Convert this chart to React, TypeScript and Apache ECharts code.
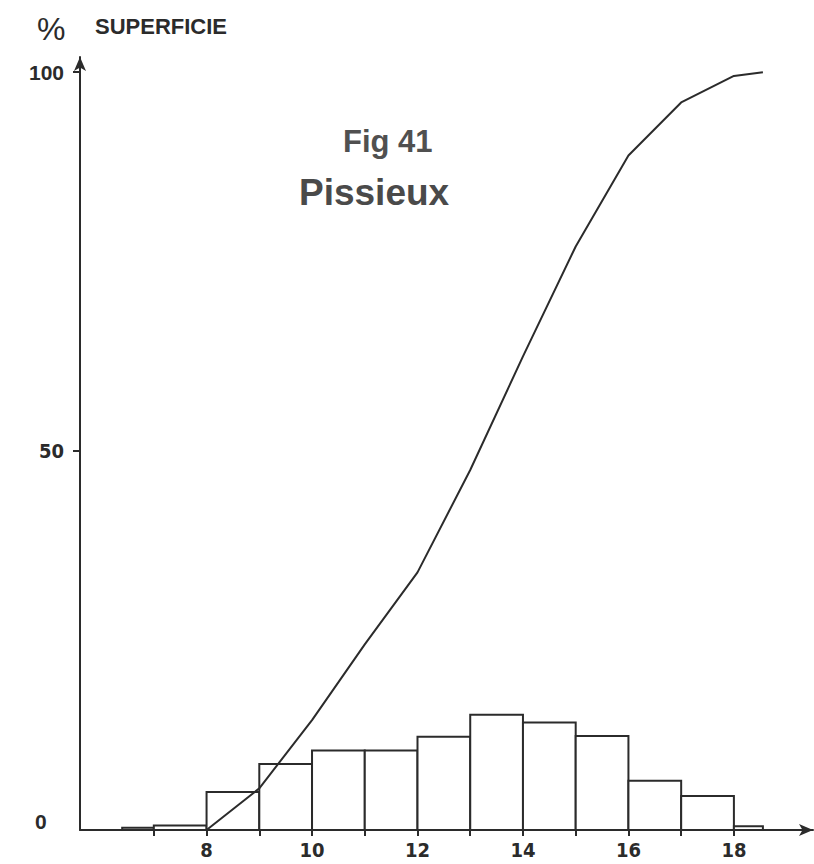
import React, { useEffect, useRef } from "react";
import * as echarts from "echarts";

// Histogram bins (class limits) and their share of the surface (%)
const binStarts = [6.4, 7, 8, 9, 10, 11, 12, 13, 14, 15, 16, 17, 18];
const binEnds = [7, 8, 9, 10, 11, 12, 13, 14, 15, 16, 17, 18, 18.55];
const binValues = [0.3, 0.6, 5.0, 8.7, 10.5, 10.5, 12.3, 15.2, 14.2, 12.4, 6.5, 4.5, 0.5];

// Cumulative curve
const cumX = [8, 9, 10, 11, 12, 13, 14, 15, 16, 17, 18, 18.55];
const cumY = [0, 5.5, 14.5, 24.5, 34, 47.5, 62.5, 77, 89, 96, 99.5, 100];

// Axis ticks / labels
const xTicks = [7, 8, 9, 10, 11, 12, 13, 14, 15, 16, 17, 18];
const xLabels = [8, 10, 12, 14, 16, 18];
const yTicks = [50, 100];
const yLabels = [50, 100];

const FONT = '"Liberation Sans", Arial, Helvetica, sans-serif';
const NARROW = '"Liberation Sans Narrow", "DejaVu Sans Condensed", "Liberation Sans", Arial, sans-serif';
const INK = "#2b2b2b";

export default function App() {
  const ref = useRef<HTMLDivElement>(null);

  useEffect(() => {
    document.body.style.margin = "0";
    const chart = echarts.init(ref.current!, null, { renderer: "svg" });
    const histData = binStarts.map((s, i) => [s, binEnds[i], binValues[i]]);
    const lineData = cumX.map((x, i) => [x, cumY[i]]);

    chart.setOption({
      animation: false,
      backgroundColor: "#ffffff",
      textStyle: { fontFamily: FONT },
      grid: {
        left: 80,
        right: 1,
        top: 57,
        bottom: 34,
        containLabel: false,
        outerBoundsMode: "none",
      },
      xAxis: {
        type: "value",
        min: 5.6,
        max: 19.5,
        splitLine: { show: false },
        axisLine: {
          show: true,
          lineStyle: { color: INK, width: 2 },
          symbol: ["none", "arrow"],
          symbolSize: [9, 14],
        },
        axisTick: {
          show: true,
          customValues: xTicks,
          length: 6,
          inside: false,
          lineStyle: { color: INK, width: 2 },
        },
        axisLabel: {
          customValues: xLabels,
          margin: 10,
          color: INK,
          fontSize: 20,
          fontWeight: "bold",
          fontFamily: NARROW,
        },
      },
      yAxis: {
        type: "value",
        min: 0,
        max: 102,
        splitLine: { show: false },
        axisLine: {
          show: true,
          lineStyle: { color: INK, width: 2 },
          symbol: ["none", "arrow"],
          symbolSize: [9, 14],
        },
        axisTick: {
          show: true,
          customValues: yTicks,
          length: 7,
          lineStyle: { color: INK, width: 2 },
        },
        axisLabel: {
          customValues: yLabels,
          margin: 16,
          color: INK,
          fontWeight: "bold",
          formatter: (v: number) => (v === 100 ? "{w|" + v + "}" : "{n|" + v + "}"),
          rich: {
            w: { fontSize: 21, fontWeight: "bold", fontFamily: FONT, color: INK },
            n: { fontSize: 20, fontWeight: "bold", fontFamily: NARROW, color: INK },
          },
        },
      },
      graphic: [
        {
          type: "text",
          left: 37,
          top: 13,
          style: { text: "%", fontSize: 32, fontFamily: FONT, fill: INK },
        },
        {
          type: "text",
          left: 95,
          top: 15,
          style: {
            text: "SUPERFICIE",
            fontSize: 22,
            fontWeight: "bold",
            fontFamily: FONT,
            fill: INK,
          },
        },
        {
          type: "text",
          left: 35,
          top: 811,
          style: {
            text: "0",
            fontSize: 21,
            fontWeight: "bold",
            fontFamily: FONT,
            fill: INK,
          },
        },
        {
          type: "text",
          left: 343,
          top: 126,
          style: {
            text: "Fig 41",
            fontSize: 31,
            fontWeight: "bold",
            fontFamily: FONT,
            fill: "#505050",
          },
        },
        {
          type: "text",
          left: 299,
          top: 174,
          style: {
            text: "Pissieux",
            fontSize: 37,
            fontWeight: "bold",
            fontFamily: FONT,
            fill: "#4a4a4a",
          },
        },
      ],
      series: [
        {
          type: "custom",
          data: histData,
          encode: { x: [0, 1], y: 2 },
          renderItem: (params: any, api: any) => {
            const x0 = api.value(0);
            const x1 = api.value(1);
            const v = api.value(2);
            const p0 = api.coord([x0, v]);
            const p1 = api.coord([x1, 0]);
            return {
              type: "rect",
              shape: { x: p0[0], y: p0[1], width: p1[0] - p0[0], height: p1[1] - p0[1] },
              style: { fill: "#ffffff", stroke: INK, lineWidth: 2 },
            };
          },
          z: 2,
        },
        {
          type: "line",
          data: lineData,
          symbol: "none",
          lineStyle: { color: INK, width: 2 },
          z: 3,
        },
      ],
    });
    return () => chart.dispose();
  }, []);

  return (
    <div
      ref={ref}
      style={{ position: "absolute", left: 0, top: 0, width: 814, height: 864 }}
    />
  );
}
